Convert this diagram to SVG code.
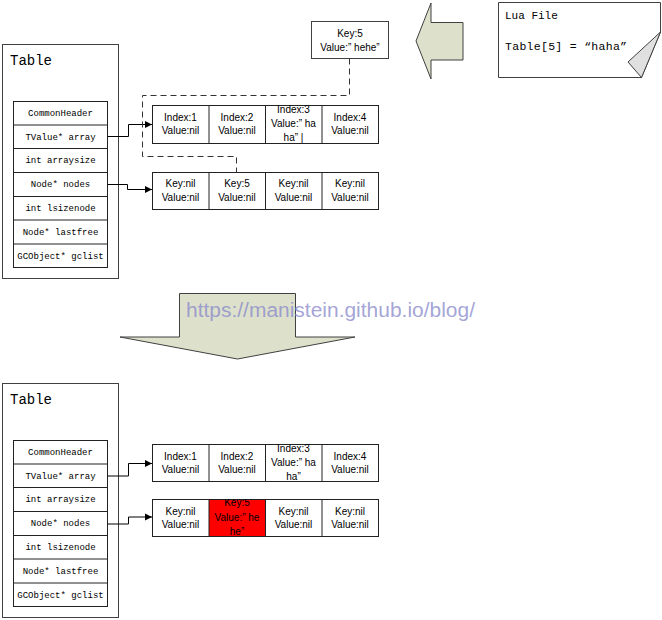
<svg xmlns="http://www.w3.org/2000/svg" width="662" height="620" viewBox="0 0 662 620">
<style>
.box{fill:#fff;stroke:#404040;stroke-width:1}
.cell{fill:#fff;stroke:#222;stroke-width:1}
.mono{font-family:"Liberation Mono",monospace;fill:#000}
.row{font-family:"Liberation Mono",monospace;font-size:9px;fill:#000;text-anchor:middle}
.ct{font-family:"Liberation Sans",Arial,sans-serif;font-size:10px;fill:#000;text-anchor:middle}
.conn{fill:none;stroke:#000;stroke-width:1}
.dash{fill:none;stroke:#333;stroke-width:1;stroke-dasharray:6,4}
.big{fill:#dde0cb;stroke:#404040;stroke-width:1}
</style>
<defs>
<marker id="ah" markerWidth="8" markerHeight="8" refX="7" refY="4" orient="auto" markerUnits="userSpaceOnUse">
<path d="M0,0.5 L7,4 L0,7.5 Z" fill="#000"/>
</marker>
<clipPath id="redclip"><rect x="209" y="499" width="56" height="37"/></clipPath>
</defs>

<!-- Top Table -->
<g id="table-top">
<rect class="box" x="2.5" y="44.5" width="116" height="234"/>
<text class="mono" x="10" y="65" font-size="14">Table</text>
<rect class="cell" x="13.5" y="101.5" width="94" height="166"/>
<line class="cell" x1="13.5" y1="125" x2="107.5" y2="125"/>
<line class="cell" x1="13.5" y1="148.5" x2="107.5" y2="148.5"/>
<line class="cell" x1="13.5" y1="172.5" x2="107.5" y2="172.5"/>
<line class="cell" x1="13.5" y1="196.5" x2="107.5" y2="196.5"/>
<line class="cell" x1="13.5" y1="220" x2="107.5" y2="220"/>
<line class="cell" x1="13.5" y1="244" x2="107.5" y2="244"/>
<text class="row" x="60.5" y="116">CommonHeader</text>
<text class="row" x="60.5" y="139.5">TValue* array</text>
<text class="row" x="60.5" y="163">int arraysize</text>
<text class="row" x="60.5" y="187">Node* nodes</text>
<text class="row" x="60.5" y="211">int lsizenode</text>
<text class="row" x="60.5" y="235">Node* lastfree</text>
<text class="row" x="60.5" y="258.5">GCObject* gclist</text>
</g>

<!-- Top array -->
<g id="array-top">
<rect class="cell" x="152.5" y="105.5" width="226" height="38"/>
<line class="cell" x1="209" y1="105.5" x2="209" y2="143.5"/>
<line class="cell" x1="265.5" y1="105.5" x2="265.5" y2="143.5"/>
<line class="cell" x1="322" y1="105.5" x2="322" y2="143.5"/>
<text class="ct" x="180.5" y="120.5">Index:1</text>
<text class="ct" x="180.5" y="134">Value:nil</text>
<text class="ct" x="237" y="120.5">Index:2</text>
<text class="ct" x="237" y="134">Value:nil</text>
<text class="ct" x="293.5" y="112.5">Index:3</text>
<text class="ct" x="293.5" y="126.5">Value:” ha</text>
<text class="ct" x="293.5" y="140.5">ha” |</text>
<text class="ct" x="350" y="120.5">Index:4</text>
<text class="ct" x="350" y="134">Value:nil</text>
</g>

<!-- Top nodes -->
<g id="nodes-top">
<rect class="cell" x="152.5" y="172.5" width="226" height="37"/>
<line class="cell" x1="209" y1="172.5" x2="209" y2="209.5"/>
<line class="cell" x1="265.5" y1="172.5" x2="265.5" y2="209.5"/>
<line class="cell" x1="322" y1="172.5" x2="322" y2="209.5"/>
<text class="ct" x="180.5" y="187">Key:nil</text>
<text class="ct" x="180.5" y="200.5">Value:nil</text>
<text class="ct" x="237" y="187">Key:5</text>
<text class="ct" x="237" y="200.5">Value:nil</text>
<text class="ct" x="293.5" y="187">Key:nil</text>
<text class="ct" x="293.5" y="200.5">Value:nil</text>
<text class="ct" x="350" y="187">Key:nil</text>
<text class="ct" x="350" y="200.5">Value:nil</text>
</g>

<!-- New key node -->
<g id="key5-box">
<rect class="box" x="311.5" y="21.5" width="77" height="37"/>
<text class="ct" x="350" y="37">Key:5</text>
<text class="ct" x="350" y="51">Value:” hehe”</text>
</g>

<!-- Left pointing arrow -->
<g id="left-arrow">
<polygon class="big" points="416,41 431,3 431,22.5 463,22.5 463,60 431,60 431,79"/>
</g>

<!-- Lua file note -->
<g id="lua-file">
<path class="box" d="M498.5,2.5 H660.5 V32 L641.5,77.5 H498.5 Z"/>
<polygon points="660.5,32 628,62 641.5,77.5" fill="#e0e0e0" stroke="#404040" stroke-width="1"/>
<text class="mono" x="505" y="19" font-size="11">Lua File</text>
<text class="mono" x="505" y="50" font-size="11.5" textLength="122" lengthAdjust="spacing">Table[5] = “haha”</text>
</g>

<!-- Down arrow -->
<g id="down-arrow">
<polygon class="big" points="179.5,293.5 295.5,293.5 295.5,337 355,337 237.5,359 120,337 179.5,337"/>
</g>
<text x="186" y="317" font-family="Liberation Sans,Arial,sans-serif" font-size="20" fill="#8c8ccc" fill-opacity="0.8" textLength="289" lengthAdjust="spacingAndGlyphs">https://manistein.github.io/blog/</text>

<!-- Bottom Table -->
<g id="table-bottom">
<rect class="box" x="2.5" y="383.5" width="116" height="234"/>
<text class="mono" x="10" y="404" font-size="14">Table</text>
<rect class="cell" x="13.5" y="440.5" width="94" height="166"/>
<line class="cell" x1="13.5" y1="464" x2="107.5" y2="464"/>
<line class="cell" x1="13.5" y1="487.5" x2="107.5" y2="487.5"/>
<line class="cell" x1="13.5" y1="511.5" x2="107.5" y2="511.5"/>
<line class="cell" x1="13.5" y1="535.5" x2="107.5" y2="535.5"/>
<line class="cell" x1="13.5" y1="559" x2="107.5" y2="559"/>
<line class="cell" x1="13.5" y1="583" x2="107.5" y2="583"/>
<text class="row" x="60.5" y="455">CommonHeader</text>
<text class="row" x="60.5" y="478.5">TValue* array</text>
<text class="row" x="60.5" y="502">int arraysize</text>
<text class="row" x="60.5" y="526">Node* nodes</text>
<text class="row" x="60.5" y="550">int lsizenode</text>
<text class="row" x="60.5" y="574">Node* lastfree</text>
<text class="row" x="60.5" y="597.5">GCObject* gclist</text>
</g>

<!-- Bottom array -->
<g id="array-bottom">
<rect class="cell" x="152.5" y="444.5" width="226" height="37"/>
<line class="cell" x1="209" y1="444.5" x2="209" y2="481.5"/>
<line class="cell" x1="265.5" y1="444.5" x2="265.5" y2="481.5"/>
<line class="cell" x1="322" y1="444.5" x2="322" y2="481.5"/>
<text class="ct" x="180.5" y="460">Index:1</text>
<text class="ct" x="180.5" y="473">Value:nil</text>
<text class="ct" x="237" y="460">Index:2</text>
<text class="ct" x="237" y="473">Value:nil</text>
<text class="ct" x="293.5" y="451.5">Index:3</text>
<text class="ct" x="293.5" y="466">Value:” ha</text>
<text class="ct" x="293.5" y="480">ha”</text>
<text class="ct" x="350" y="460">Index:4</text>
<text class="ct" x="350" y="473">Value:nil</text>
</g>

<!-- Bottom nodes -->
<g id="nodes-bottom">
<rect class="cell" x="152.5" y="499.5" width="226" height="37"/>
<rect x="209" y="499.5" width="56.5" height="37" fill="#ff0000" stroke="#222" stroke-width="1"/>
<line class="cell" x1="322" y1="499.5" x2="322" y2="536.5"/>
<text class="ct" x="180.5" y="514.5">Key:nil</text>
<text class="ct" x="180.5" y="527.5">Value:nil</text>
<g clip-path="url(#redclip)">
<text class="ct" x="237" y="506">Key:5</text>
<text class="ct" x="237" y="521">Value:” he</text>
<text class="ct" x="237" y="535">he”</text>
</g>
<text class="ct" x="293.5" y="514.5">Key:nil</text>
<text class="ct" x="293.5" y="527.5">Value:nil</text>
<text class="ct" x="350" y="514.5">Key:nil</text>
<text class="ct" x="350" y="527.5">Value:nil</text>
</g>

<!-- Connectors -->
<g id="connectors">
<polyline class="conn" points="107.5,136.5 128.5,136.5 128.5,124.5 152,124.5" marker-end="url(#ah)"/>
<polyline class="conn" points="107.5,184.5 127.5,184.5 127.5,189.5 152,189.5" marker-end="url(#ah)"/>
<polyline class="dash" points="349.5,58.5 349.5,95.5 142.5,95.5 142.5,156.5 236.5,156.5 236.5,172.5"/>
<polyline class="conn" points="107.5,476 128.5,476 128.5,463.5 152,463.5" marker-end="url(#ah)"/>
<polyline class="conn" points="107.5,524 128.5,524 128.5,517 152,517" marker-end="url(#ah)"/>
</g>
</svg>
